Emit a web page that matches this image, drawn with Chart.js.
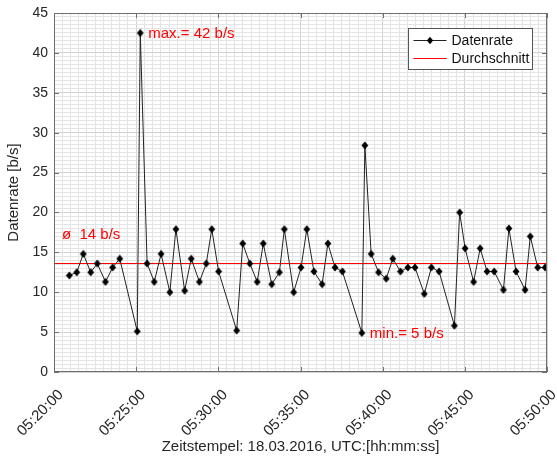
<!DOCTYPE html>
<html>
<head>
<meta charset="utf-8">
<script src="https://cdn.jsdelivr.net/npm/chart.js@4.4.1/dist/chart.umd.min.js"></script>
<style>
  html, body { margin: 0; padding: 0; background: #fff; }
  #wrap { width: 557px; height: 457px; }
</style>
</head>
<body>
<div id="wrap"><canvas id="rateChart" width="557" height="457"></canvas></div>
<script>
// Messzeitpunkte (UTC) und Datenrate in b/s
const timestamps = [
    '05:20:56', '05:21:23', '05:21:47', '05:22:14', '05:22:38', '05:23:08', '05:23:34', '05:24:00',
    '05:25:04', '05:25:15', '05:25:40', '05:26:06', '05:26:31', '05:27:03', '05:27:25', '05:27:57',
    '05:28:21', '05:28:51', '05:29:16', '05:29:36', '05:30:01', '05:31:07', '05:31:29', '05:31:55',
    '05:32:22', '05:32:44', '05:33:15', '05:33:43', '05:34:01', '05:34:35', '05:35:02', '05:35:23',
    '05:35:49', '05:36:19', '05:36:40', '05:37:06', '05:37:33', '05:38:44', '05:38:55', '05:39:18',
    '05:39:45', '05:40:13', '05:40:37', '05:41:05', '05:41:32', '05:41:58', '05:42:32', '05:42:58',
    '05:43:26', '05:44:22', '05:44:41', '05:45:01', '05:45:32', '05:45:56', '05:46:21', '05:46:47',
    '05:47:21', '05:47:41', '05:48:07', '05:48:40', '05:48:59', '05:49:26', '05:49:53'
];
const dataRates = [
    12.1, 12.5, 14.8, 12.5, 13.6, 11.3, 13.1, 14.2,
    5.1, 42.5, 13.6, 11.3, 14.8, 10.0, 17.9, 10.2,
    14.2, 11.3, 13.6, 17.9, 12.6, 5.2, 16.1, 13.6,
    11.3, 16.1, 11.0, 12.5, 17.9, 10.0, 13.1, 17.9,
    12.6, 11.0, 16.1, 13.1, 12.6, 4.9, 28.4, 14.8,
    12.5, 11.7, 14.2, 12.6, 13.1, 13.1, 9.8, 13.1,
    12.6, 5.8, 20.0, 15.5, 11.3, 15.5, 12.6, 12.6,
    10.3, 18.0, 12.6, 10.3, 17.0, 13.1, 13.1
];
const avgRate = 13.6;

// Achsen
const startTime = '05:20:00';
const endTime = '05:50:00';
const xTickLabels = ['05:20:00', '05:25:00', '05:30:00', '05:35:00', '05:40:00', '05:45:00', '05:50:00'];
const yTickLabels = [0, 5, 10, 15, 20, 25, 30, 35, 40, 45];

// Beschriftungen
const seriesNames = ['Datenrate', 'Durchschnitt'];
const maxText = 'max.= 42 b/s';
const minText = 'min.= 5 b/s';
const avgText = 'ø  14 b/s';

const FONT = "'Liberation Sans', Arial, sans-serif";

function toSec(t) {
    const p = t.split(':').map(Number);
    return p[0] * 3600 + p[1] * 60 + p[2];
}
const t0 = toSec(startTime);
const xMax = toSec(endTime) - t0;
const xMajor = xTickLabels.map(t => toSec(t) - t0);

const ratePoints = timestamps.map((t, i) => ({ x: toSec(t) - t0, y: dataRates[i] }));
const avgPoints = [{ x: 0, y: avgRate }, { x: xMax, y: avgRate }];

// Rahmen, Ticks, Legende und Textmarken
const decorPlugin = {
    id: 'decor',
    afterDraw(chart) {
        const ctx = chart.ctx;
        const a = chart.chartArea;
        const xs = chart.scales.x;
        const ys = chart.scales.y;
        ctx.save();

        // Rahmen
        ctx.strokeStyle = '#6e6e6e';
        ctx.lineWidth = 1;
        ctx.strokeRect(Math.round(a.left) + 0.5, Math.round(a.top) + 0.5,
            Math.round(a.right - a.left) - 1, Math.round(a.bottom - a.top) - 1);

        // Ticks nach innen
        const tl = 5;
        ctx.beginPath();
        xMajor.forEach(v => {
            const px = Math.round(xs.getPixelForValue(v)) + 0.5;
            ctx.moveTo(px, a.bottom); ctx.lineTo(px, a.bottom - tl);
            ctx.moveTo(px, a.top); ctx.lineTo(px, a.top + tl);
        });
        yTickLabels.forEach(v => {
            const py = Math.round(ys.getPixelForValue(v)) + 0.5;
            ctx.moveTo(a.left, py); ctx.lineTo(a.left + tl, py);
            ctx.moveTo(a.right, py); ctx.lineTo(a.right - tl, py);
        });
        ctx.stroke();

        // Textmarken
        ctx.fillStyle = '#ff0000';
        ctx.font = '15px ' + FONT;
        ctx.textAlign = 'left';
        ctx.textBaseline = 'middle';
        const iMax = dataRates.indexOf(Math.max(...dataRates));
        const iMin = dataRates.indexOf(Math.min(...dataRates));
        ctx.fillText(maxText, xs.getPixelForValue(ratePoints[iMax].x) + 8, ys.getPixelForValue(ratePoints[iMax].y) + 1);
        ctx.fillText(minText, xs.getPixelForValue(ratePoints[iMin].x) + 8, ys.getPixelForValue(ratePoints[iMin].y) + 1);
        ctx.fillText(avgText, a.left + 8, ys.getPixelForValue(avgRate) - 29);

        // Legende
        const lx = 408.5, ly = 28.5, lw = 124, lh = 41;
        ctx.fillStyle = '#fff';
        ctx.fillRect(lx, ly, lw, lh);
        ctx.strokeStyle = '#555';
        ctx.strokeRect(lx, ly, lw, lh);
        const rows = [ly + 12, ly + 30];
        ctx.lineWidth = 1;
        ctx.strokeStyle = '#222';
        ctx.beginPath(); ctx.moveTo(lx + 5, rows[0]); ctx.lineTo(lx + 38, rows[0]); ctx.stroke();
        ctx.strokeStyle = '#ff0000';
        ctx.beginPath(); ctx.moveTo(lx + 5, rows[1]); ctx.lineTo(lx + 38, rows[1]); ctx.stroke();
        ctx.fillStyle = '#000';
        ctx.beginPath();
        const cx = lx + 21.5, cy = rows[0];
        ctx.moveTo(cx, cy - 3.8); ctx.lineTo(cx + 3.2, cy); ctx.lineTo(cx, cy + 3.8); ctx.lineTo(cx - 3.2, cy);
        ctx.closePath(); ctx.fill();
        ctx.font = '14px ' + FONT;
        ctx.fillStyle = '#111';
        ctx.fillText(seriesNames[0], lx + 43, rows[0] + 1);
        ctx.fillText(seriesNames[1], lx + 43, rows[1] + 1);

        ctx.restore();
    }
};

// Rautenmarker (etwas höher als breit)
function makeDiamond() {
    const c = document.createElement('canvas');
    c.width = 8; c.height = 9;
    const g = c.getContext('2d');
    g.fillStyle = '#000';
    g.beginPath();
    g.moveTo(4, 0.5); g.lineTo(7.4, 4.5); g.lineTo(4, 8.5); g.lineTo(0.6, 4.5);
    g.closePath(); g.fill();
    return c;
}

document.addEventListener('DOMContentLoaded', () => {
    const canvas = document.getElementById('rateChart');
    new Chart(canvas.getContext('2d'), {
        type: 'line',
        data: {
            datasets: [
                {
                    label: seriesNames[0],
                    data: ratePoints,
                    borderColor: '#222',
                    borderWidth: 1,
                    pointStyle: makeDiamond(),
                    pointRadius: 4,
                    tension: 0,
                    fill: false,
                    order: 1
                },
                {
                    label: seriesNames[1],
                    data: avgPoints,
                    borderColor: '#ff0000',
                    borderWidth: 1,
                    pointRadius: 0,
                    fill: false,
                    order: 2
                }
            ]
        },
        options: {
            responsive: false,
            animation: false,
            events: [],
            layout: { padding: { top: 13, right: 10, left: 0, bottom: 0 } },
            plugins: {
                legend: { display: false },
                tooltip: { enabled: false }
            },
            scales: {
                x: {
                    type: 'linear',
                    min: 0,
                    max: xMax,
                    afterFit: s => { s.height = 85; s.paddingLeft = 0; s.paddingRight = 0; },
                    border: { display: false },
                    grid: {
                        drawTicks: false,
                        color: c => (c.tick && c.tick.value % 300 === 0) ? '#d2d2d2' : '#e4e4e4',
                        lineWidth: 1
                    },
                    ticks: {
                        stepSize: 30,
                        autoSkip: false,
                        maxTicksLimit: 1000,
                        minRotation: 45,
                        maxRotation: 45,
                        padding: 14,
                        labelOffset: 7,
                        color: '#262626',
                        font: { family: FONT, size: 15 },
                        callback: v => {
                            const i = xMajor.indexOf(v);
                            return i >= 0 ? xTickLabels[i] : '';
                        }
                    },
                    title: {
                        display: true,
                        text: 'Zeitstempel: 18.03.2016, UTC:[hh:mm:ss]',
                        color: '#262626',
                        font: { family: FONT, size: 15 },
                        padding: { top: 0, bottom: 1 }
                    }
                },
                y: {
                    min: 0,
                    max: 45,
                    afterFit: s => { s.width = 54; s.paddingTop = 0; s.paddingBottom = 0; },
                    border: { display: false },
                    grid: {
                        drawTicks: false,
                        color: c => (c.tick && c.tick.value % 5 === 0) ? '#d2d2d2' : '#e4e4e4',
                        lineWidth: 1
                    },
                    ticks: {
                        stepSize: 0.5,
                        autoSkip: false,
                        maxTicksLimit: 1000,
                        padding: 6,
                        color: '#262626',
                        font: { family: FONT, size: 14 },
                        callback: v => yTickLabels.includes(v) ? String(v) : ''
                    },
                    title: {
                        display: true,
                        text: 'Datenrate [b/s]',
                        color: '#262626',
                        font: { family: FONT, size: 15 },
                        padding: { top: 5, bottom: 0 }
                    }
                }
            }
        },
        plugins: [decorPlugin]
    });
});
</script>
</body>
</html>
